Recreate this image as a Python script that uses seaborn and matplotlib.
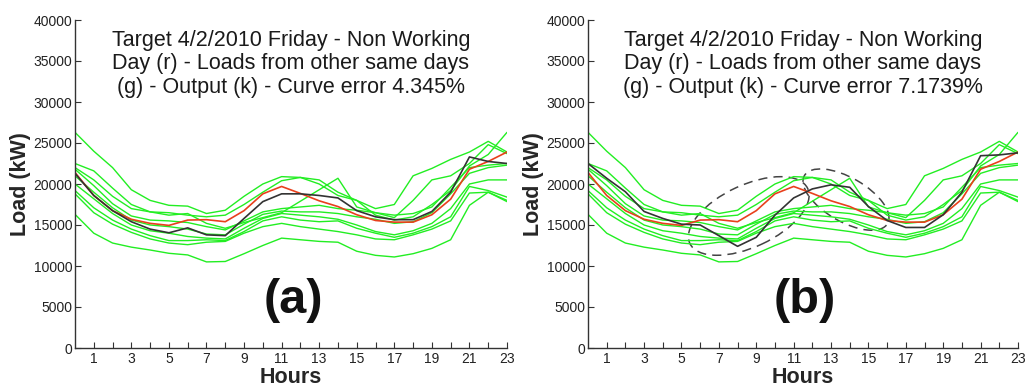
import numpy as np
import pandas as pd
import seaborn as sns
import matplotlib
matplotlib.use("Agg")
import matplotlib.pyplot as plt
from matplotlib.patches import Ellipse
import matplotlib.transforms as mtransforms

# ---------------- data ----------------
hours = list(range(24))

target = [21400, 18600, 16750, 15700, 15200, 14950, 15600, 15650, 15400, 16750,
          18800, 19700, 18850, 17950, 17250, 16250, 15550, 15350, 15350, 16250,
          18150, 21800, 22750, 23900]

output_a = [21300, 18600, 16750, 15400, 14500, 14050, 14650, 13800, 13700, 15800,
            17850, 18800, 18800, 18600, 18300, 16750, 16000, 15650, 15650, 16650,
            19000, 23300, 22750, 22500]

output_b = [22500, 20700, 19050, 16650, 15800, 15100, 15000, 13700, 12400, 13500,
            16200, 18300, 19400, 19900, 19600, 17250, 15550, 14700, 14700, 16250,
            19000, 23450, 23550, 23800]

other_days = [
    [26300, 24000, 22000, 19300, 18000, 17400, 17300, 16400, 16800, 18500, 20000, 20900,
     20800, 20500, 19000, 18000, 17000, 17500, 21000, 21900, 23000, 23900, 25200, 23900],
    [22500, 21600, 19500, 17500, 16600, 16200, 16400, 15200, 14600, 15300, 15900, 16500,
     17900, 19300, 20700, 17200, 16500, 15900, 18000, 20500, 21000, 22500, 24800, 23700],
    [22000, 20500, 18500, 17000, 16600, 16500, 16200, 16000, 16200, 17500, 19000, 20400,
     20800, 20000, 18600, 18000, 16200, 15600, 16000, 17500, 19200, 22200, 23600, 26300],
    [21800, 19800, 17600, 16100, 15600, 15500, 15300, 14800, 14400, 15500, 16600, 17000,
     17200, 17400, 17000, 16800, 16500, 16200, 16400, 17200, 19600, 22000, 22300, 22500],
    [21000, 19000, 17100, 15600, 15000, 14800, 14500, 13900, 13800, 15100, 16300, 16700,
     16600, 16600, 16400, 16000, 15700, 15200, 15400, 16500, 18800, 21300, 22000, 22300],
    [20000, 18200, 16400, 15000, 14300, 14000, 13600, 13400, 13300, 14600, 15800, 16400,
     16200, 16000, 15700, 15000, 14200, 13800, 14300, 15200, 17000, 20000, 20500, 20500],
    [19200, 17100, 15600, 14500, 13700, 13100, 13100, 13200, 13100, 14200, 15500, 16000,
     15600, 15400, 15500, 14600, 14000, 13500, 14000, 14800, 16000, 19700, 19200, 18400],
    [18800, 16500, 15100, 14100, 13300, 12800, 12600, 12900, 13000, 14000, 14800, 15200,
     14800, 14500, 14200, 13800, 13300, 13200, 13800, 14500, 15500, 18900, 19000, 18000],
    [16300, 14000, 12800, 12300, 11950, 11550, 11350, 10500, 10550, 11500, 12500, 13400,
     13200, 13000, 12900, 11800, 11300, 11100, 11500, 12150, 13200, 17400, 19000, 17850],
]

titles = ["Target 4/2/2010 Friday - Non Working\nDay (r) - Loads from other same days\n(g) - Output (k) - Curve error 4.345%",
          "Target 4/2/2010 Friday - Non Working\nDay (r) - Loads from other same days\n(g) - Output (k) - Curve error 7.1739%"]
panel_labels = ["(a)", "(b)"]
xtick_values = list(range(1, 24))
xtick_labels = [str(h) if h % 2 == 1 else "" for h in xtick_values]
ytick_values = list(range(0, 40001, 5000))

# ---------------- style ----------------
sns.set_style("ticks")
plt.rcParams['font.family'] = ['Liberation Sans', 'DejaVu Sans']
plt.rcParams['xtick.direction'] = 'in'
plt.rcParams['ytick.direction'] = 'in'

fig = plt.figure(figsize=(10.25, 3.87), dpi=100)
ax_a = fig.add_axes([75 / 1025, 39 / 387, 432 / 1025, 328 / 387])
ax_b = fig.add_axes([588 / 1025, 39 / 387, 430 / 1025, 328 / 387])

green = '#22ee22'
red = '#e8401c'
black = '#333333'

for ax, output, title, lab in zip([ax_a, ax_b], [output_a, output_b], titles, panel_labels):
    for day in other_days:
        sns.lineplot(x=hours, y=day, color=green, linewidth=1.0, ax=ax)
    sns.lineplot(x=hours, y=target, color=red, linewidth=1.2, ax=ax)
    sns.lineplot(x=hours, y=output, color=black, linewidth=1.2, ax=ax)

    ax.set_xlim(0, 23)
    ax.set_ylim(0, 40000)
    ax.set_xticks(xtick_values)
    ax.set_xticklabels(xtick_labels)
    ax.set_yticks(ytick_values)
    ax.tick_params(axis='both', labelsize=10, length=4, width=0.8, colors='#333333', pad=3)
    ax.tick_params(axis='x', labelcolor='#222222')
    ax.tick_params(axis='y', labelcolor='#222222', pad=2)
    for s in ['top', 'right']:
        ax.spines[s].set_visible(False)
    for s in ['left', 'bottom']:
        ax.spines[s].set_color('#333333')
        ax.spines[s].set_linewidth(1.0)
    ax.set_xlabel("Hours", fontsize=15.5, fontweight='bold', labelpad=0.5)
    ax.set_ylabel("Load (kW)", fontsize=15.5, fontweight='bold', labelpad=2)
    ax.text(0.5, 0.866, title, transform=ax.transAxes, ha='center', va='center',
            fontsize=15.5, linespacing=1.17, color='#1a1a1a')
    ax.text(0.505, 0.146, lab, transform=ax.transAxes, ha='center', va='center',
            fontsize=35, fontweight='bold', color='#111111')

# dashed ellipses on panel (b) highlighting the deviations
ellipses = [((8.6, 16100), 1.30, 0.62, 25), ((13.8, 18100), 0.96, 0.44, -30)]
for (cx, cy), w, h, ang in ellipses:
    tr = fig.dpi_scale_trans + mtransforms.ScaledTranslation(cx, cy, ax_b.transData)
    e = Ellipse((0, 0), width=w, height=h, angle=ang, transform=tr, fill=False,
                edgecolor='#444444', linewidth=1.1, linestyle=(0, (6, 4)))
    ax_b.add_patch(e)

fig.savefig("out.png", dpi=100)
